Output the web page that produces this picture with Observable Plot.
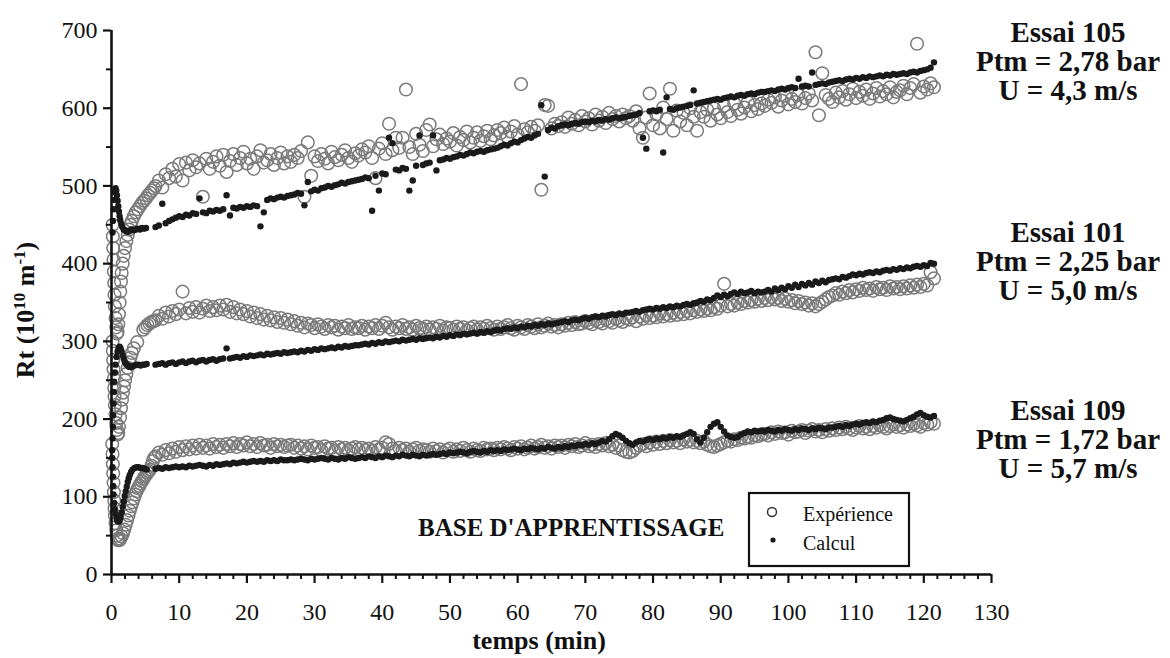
<!DOCTYPE html>
<html><head><meta charset="utf-8">
<script src="https://cdn.jsdelivr.net/npm/d3@7"></script>
<script src="https://cdn.jsdelivr.net/npm/@observablehq/plot@0.6"></script>
<style>
html,body{margin:0;padding:0;background:#fff;}
#chart{width:1170px;height:658px;}
</style></head><body><div id="chart"></div>
<script>
// ---------- DATA ----------
// x: temps (min), y: Rt (10^10 m^-1)
// Early transient samples (irregular times): [minute, Rt]
const exp105Early = [[0.15,450],[0.2,435],[0.25,420],[0.3,405],[0.35,390],[0.4,375],[0.45,360],[0.5,345],[0.6,330],[0.7,318],[0.8,310],[0.9,312],[1.0,322],[1.1,335],[1.2,350],[1.3,364],[1.4,377],[1.5,388],[1.65,400],[1.8,410],[2.0,420],[2.2,429],[2.4,437],[2.6,444],[2.8,450],[3.0,455],[3.3,461],[3.6,466],[3.9,470],[4.2,474],[4.5,478],[4.8,481],[5.1,484],[5.4,488],[5.7,491],[6.0,494],[6.3,497]];
const exp101Early = [[0.15,300],[0.2,288],[0.25,276],[0.3,264],[0.35,252],[0.4,240],[0.45,229],[0.5,218],[0.6,206],[0.7,195],[0.8,186],[0.9,180],[1.0,182],[1.1,190],[1.25,202],[1.4,214],[1.55,225],[1.7,234],[1.85,242],[2.0,250],[2.2,258],[2.4,266],[2.6,273],[2.8,279],[3.0,285],[3.3,291],[3.8,299],[4.7,315],[5.0,318],[5.3,321],[5.6,323],[5.9,325],[6.2,326]];
const exp109Early = [[0.1,168],[0.15,155],[0.2,142],[0.25,130],[0.3,118],[0.35,106],[0.4,95],[0.45,85],[0.5,76],[0.6,66],[0.7,57],[0.8,50],[0.9,46],[1.0,44],[1.15,44],[1.3,46],[1.5,49],[1.7,53],[1.9,58],[2.1,64],[2.3,70],[2.5,76],[2.7,82],[2.9,88],[3.1,93],[3.3,98],[3.5,103],[3.7,107],[3.9,111],[4.1,114],[4.3,117],[4.5,120],[4.7,123],[4.9,126],[5.1,128],[5.3,131],[5.5,133],[5.7,135],[5.9,140],[6.1,146],[6.3,150]];
const calc105Early = [[0.15,440],[0.2,455],[0.3,470],[0.4,482],[0.5,492],[0.6,497],[0.7,494],[0.8,488],[0.9,481],[1.0,474],[1.1,467],[1.2,461],[1.3,456],[1.45,451],[1.6,447],[1.8,444],[2.0,443],[2.2,442],[2.4,441],[2.6,442],[2.8,443],[3.0,444],[3.3,443],[3.6,444],[3.9,445],[4.2,444],[4.5,446],[4.8,445],[5.1,446]];
const calc101Early = [[0.1,160],[0.15,175],[0.2,190],[0.25,205],[0.3,220],[0.35,235],[0.4,248],[0.5,260],[0.6,270],[0.75,280],[0.9,287],[1.05,291],[1.2,293],[1.35,291],[1.5,287],[1.65,282],[1.8,278],[1.95,274],[2.1,272],[2.3,270],[2.5,268],[2.7,267],[2.9,267],[3.1,268],[3.4,269],[3.7,270],[4.0,270],[4.3,269],[4.6,270],[4.9,270],[5.2,271]];
const calc109Early = [[0.1,150],[0.15,138],[0.2,126],[0.25,114],[0.3,103],[0.4,92],[0.5,84],[0.6,78],[0.75,72],[0.9,69],[1.05,68],[1.2,70],[1.35,74],[1.5,80],[1.65,87],[1.8,94],[1.95,101],[2.1,107],[2.25,113],[2.4,119],[2.55,124],[2.7,128],[2.9,132],[3.1,135],[3.4,137],[3.7,138],[4.0,138],[4.3,137],[4.6,137],[4.9,136],[5.2,135]];

// Regular logger samples from 6.5 min, every 0.5 min
const sampleStart = 6.5, sampleStep = 0.5;

const exp105 = [
500,507,498,515,510,522,512,528,507,530,520,533,524,529,486,535,522,531,538,526,
540,518,532,541,527,536,544,529,535,522,538,546,530,533,541,527,536,543,529,538,
531,540,536,545,486,556,513,538,532,541,535,529,544,537,533,540,546,536,531,542,
539,547,543,551,536,510,548,555,541,580,546,562,549,562,624,550,541,567,553,545,
572,579,551,560,566,554,561,557,568,552,563,559,570,556,562,569,558,564,571,560,
565,572,568,575,563,570,577,566,631,573,569,576,571,578,495,604,603,574,580,577,
582,576,588,580,585,578,590,583,587,579,592,584,589,581,594,586,590,583,592,587,
590,584,596,574,562,588,619,578,592,574,601,586,625,571,597,583,594,578,600,589,
571,595,589,598,584,600,592,587,603,595,590,606,598,593,601,608,596,604,599,606,
603,611,607,614,602,610,616,605,612,608,617,606,613,619,610,672,591,645,617,612,
608,620,614,622,611,618,625,613,621,616,624,612,619,626,615,622,618,627,614,621,
623,629,618,626,631,683,620,628,624,632,627];

const calc105 = [
447,449,477,452,455,457,459,461,460,463,462,465,464,484,466,465,468,467,469,468,
470,488,462,472,471,473,472,474,473,475,474,448,466,482,484,483,485,486,485,487,
488,489,491,490,475,505,493,495,494,497,498,500,499,501,502,504,503,505,506,507,
508,509,511,510,468,513,494,516,515,562,555,521,520,523,522,494,507,526,565,527,
529,530,565,520,533,534,536,535,537,538,540,539,541,543,542,544,545,544,546,547,
548,549,551,553,552,555,557,556,559,561,563,562,565,567,604,512,572,575,574,577,
578,579,578,580,581,580,582,583,582,584,583,585,584,586,585,587,588,587,588,589,
590,591,592,594,562,548,596,597,596,598,543,614,599,598,600,601,602,603,604,623,
606,607,608,609,610,611,612,611,613,614,615,614,616,617,616,618,619,618,620,621,
621,622,623,622,624,625,624,626,627,626,638,628,629,628,646,630,631,632,631,633,
634,635,636,635,637,638,637,639,638,640,639,641,640,641,642,641,643,642,644,643,
644,645,644,646,647,646,648,649,650,652,659];

const exp101 = [
327,333,329,337,332,339,335,341,364,336,343,338,344,337,342,346,339,344,340,346,
341,347,338,344,336,341,335,339,332,337,330,335,328,333,327,331,325,330,324,328,
322,326,320,324,318,323,321,317,322,319,316,321,318,320,315,319,317,321,316,318,
317,320,315,319,317,321,316,320,324,318,315,319,317,321,316,318,315,320,317,316,
319,315,318,316,320,314,318,317,315,319,316,318,314,317,319,315,318,316,320,317,
315,319,316,318,321,317,315,320,318,316,321,319,317,322,318,320,323,319,321,318,
322,320,324,321,325,322,323,326,324,322,327,325,323,328,326,324,329,327,325,330,
328,331,326,332,329,334,330,333,331,336,332,335,333,337,334,338,335,339,336,340,
338,341,339,342,340,344,342,346,374,345,348,346,350,348,352,350,353,351,355,352,
356,353,357,354,356,352,355,351,353,349,352,348,350,346,349,345,348,351,354,357,
359,362,360,364,362,366,363,367,365,369,366,368,365,370,367,369,366,371,368,370,
367,371,368,372,369,373,370,374,372,389,381];

const calc101 = [
270,271,272,270,272,273,271,273,274,272,274,275,273,275,276,274,276,277,275,277,
278,291,278,279,280,279,281,280,282,281,282,283,282,284,283,284,285,284,286,285,
286,287,286,288,287,289,288,290,289,291,290,291,292,291,293,292,294,293,294,295,
295,296,297,296,298,297,299,298,300,299,300,301,300,302,301,302,303,302,304,303,
304,305,304,306,305,307,306,308,307,309,308,310,309,310,311,310,312,311,313,312,
314,315,314,316,317,316,318,317,319,318,320,319,321,320,322,321,323,322,323,324,
325,326,325,327,328,327,329,330,329,331,332,331,333,332,334,335,334,336,335,337,
337,338,339,338,340,341,342,341,343,342,344,343,345,344,346,345,347,348,347,349,
350,352,351,354,353,356,359,357,360,358,361,363,361,364,362,363,365,362,364,363,
364,366,364,368,366,369,367,371,369,373,370,374,372,375,373,377,375,378,376,379,
380,381,380,383,382,384,386,385,387,386,388,389,388,390,389,391,392,391,393,392,
394,393,395,394,396,397,396,398,397,401,400];

const exp109 = [
152,157,154,160,156,162,158,164,160,165,161,166,162,167,163,166,162,168,164,167,
163,168,165,169,164,168,166,170,165,168,164,169,166,167,163,168,165,167,164,166,
167,163,166,162,165,161,166,163,164,160,165,162,163,159,164,161,163,160,162,164,
161,163,160,162,159,164,161,163,170,168,162,159,163,160,162,158,161,163,159,161,
160,158,162,159,161,157,160,162,158,161,159,163,160,158,162,160,159,163,161,162,
160,163,161,164,162,160,164,162,165,161,163,166,162,164,167,163,165,162,166,164,
166,163,167,165,168,164,166,169,165,167,164,168,166,169,165,167,163,166,160,158,
157,159,163,166,168,165,170,167,171,168,172,169,173,170,172,169,174,171,173,170,
172,169,171,167,165,164,166,168,170,172,171,174,173,176,175,177,176,179,178,180,
181,179,183,181,184,182,183,180,185,183,184,186,182,185,187,184,186,183,187,185,
188,186,189,187,190,188,186,189,191,188,190,187,191,189,192,190,188,191,193,190,
192,189,193,191,194,192,190,195,193,196,194];

const calc109 = [
136,137,136,138,137,138,139,138,139,138,140,139,140,141,140,139,141,140,142,141,
142,143,142,144,143,144,145,144,145,146,145,146,145,147,146,147,146,148,147,147,
148,147,148,149,148,147,149,148,149,150,149,148,150,149,148,150,149,151,150,149,
150,151,150,152,151,150,152,151,153,152,151,153,152,154,153,152,154,153,152,154,
153,154,155,154,155,156,155,157,156,157,158,157,156,158,159,158,157,159,158,160,
159,160,159,161,160,161,162,161,160,162,161,163,162,161,163,162,164,163,162,164,
163,165,164,166,165,167,166,168,167,169,168,170,172,171,174,178,181,179,176,172,
169,167,170,172,171,173,174,173,175,174,176,175,177,176,178,177,179,181,183,181,
174,170,176,183,190,194,196,190,184,179,177,176,177,180,182,184,183,185,184,185,
184,186,185,184,186,185,187,186,185,187,186,188,187,186,188,187,189,188,187,189,
189,190,191,190,192,191,193,194,193,195,196,195,197,196,198,199,201,202,200,199,
198,197,199,201,203,206,208,205,203,202,204];

const xMajorTicks = [0,10,20,30,40,50,60,70,80,90,100,110,120,130];
const xMinorTicks = [2,4,6,8,12,14,16,18,22,24,26,28,32,34,36,38,42,44,46,48,52,54,56,58,62,64,66,68,72,74,76,78,82,84,86,88,92,94,96,98,102,104,106,108,112,114,116,118,122,124,126,128];
const yMajorTicks = [0,100,200,300,400,500,600,700];
const yMinorTicks = [50,150,250,350,450,550,650];

const essaiLabels = [
  ["Essai 105", "Ptm = 2,78 bar", "U = 4,3 m/s"],
  ["Essai 101", "Ptm = 2,25 bar", "U = 5,0 m/s"],
  ["Essai 109", "Ptm = 1,72 bar", "U = 5,7 m/s"]
];
const legendItems = ["Expérience", "Calcul"];

// ---------- BUILD TABLES ----------
function build(early, main, essai) {
  const out = early.map(([t, v]) => ({t, v, essai}));
  main.forEach((v, i) => out.push({t: sampleStart + i * sampleStep, v, essai}));
  return out;
}
const experience = [
  ...build(exp105Early, exp105, "105"),
  ...build(exp101Early, exp101, "101"),
  ...build(exp109Early, exp109, "109")
];
const calcul = [
  ...build(calc105Early, calc105, "105"),
  ...build(calc101Early, calc101, "101"),
  ...build(calc109Early, calc109, "109")
];

const SERIF = "'Liberation Serif','Times New Roman',Times,serif";

const chart = Plot.plot({
  width: 1170, height: 658,
  marginLeft: 111, marginRight: 179, marginTop: 30, marginBottom: 84,
  x: {domain: [0, 130]},
  y: {domain: [0, 700]},
  style: {fontFamily: SERIF, background: "white", color: "#111"},
  marks: [
    Plot.dot(experience, {x: "t", y: "v", r: 6.3, stroke: "#7a7a7a", strokeWidth: 1.5, fill: "none"}),
    Plot.dot(calcul, {x: "t", y: "v", r: 3.2, fill: "#1a1a1a", stroke: "none"}),
    Plot.axisX({ticks: xMinorTicks, tickSize: 5, tickFormat: () => "", strokeWidth: 2, label: null}),
    Plot.axisX({ticks: xMajorTicks, tickSize: 9, tickPadding: 19, fontSize: 24, strokeWidth: 2.2, label: null}),
    Plot.axisY({ticks: yMinorTicks, tickSize: 5, tickFormat: () => "", strokeWidth: 2, label: null}),
    Plot.axisY({ticks: yMajorTicks, tickSize: 8, tickPadding: 6, fontSize: 24, strokeWidth: 2.2, label: null}),
    Plot.ruleY([0], {x1: 0, x2: 130, strokeWidth: 2.6, stroke: "#111"}),
    Plot.ruleX([0], {y1: 0, y2: 700, strokeWidth: 2.6, stroke: "#111"})
  ]
});
document.getElementById("chart").appendChild(chart);

// ---------- ANNOTATIONS ----------
const svg = d3.select(chart);
const g = svg.append("g").attr("font-family", SERIF).attr("fill", "#111").attr("text-anchor", "start");

// y axis title with superscripts
const yt = g.append("text")
  .attr("transform", "translate(34,310) rotate(-90)")
  .attr("text-anchor", "middle")
  .attr("font-size", 26).attr("font-weight", "bold");
yt.append("tspan").text("Rt (10");
yt.append("tspan").attr("baseline-shift", "super").attr("font-size", 17).text("10");
yt.append("tspan").text(" m");
yt.append("tspan").attr("baseline-shift", "super").attr("font-size", 17).text("-1");
yt.append("tspan").text(")");

// x axis title
g.append("text").attr("x", 539).attr("y", 649).attr("text-anchor", "middle")
  .attr("font-size", 26).attr("font-weight", "bold").text("temps (min)");

// right-side test labels
const blockTops = [42, 242, 420];
essaiLabels.forEach((lines, k) => {
  lines.forEach((s, j) => {
    g.append("text").attr("x", 1068).attr("y", blockTops[k] + j * 29)
      .attr("text-anchor", "middle").attr("font-size", 29).attr("font-weight", "bold").text(s);
  });
});

// base label
g.append("text").attr("x", 418).attr("y", 536).attr("text-anchor", "start")
  .attr("font-size", 25).attr("font-weight", "bold").text("BASE D'APPRENTISSAGE");

// legend box
g.append("rect").attr("x", 749).attr("y", 493).attr("width", 160).attr("height", 73)
  .attr("fill", "white").attr("stroke", "#111").attr("stroke-width", 2.2);
g.append("circle").attr("cx", 772).attr("cy", 512).attr("r", 4.5)
  .attr("fill", "white").attr("stroke", "#333").attr("stroke-width", 1.5);
g.append("circle").attr("cx", 773).attr("cy", 540).attr("r", 2.6).attr("fill", "#1a1a1a");
g.append("text").attr("x", 803).attr("y", 521).attr("text-anchor", "start").attr("font-size", 20).text(legendItems[0]);
g.append("text").attr("x", 803).attr("y", 550).attr("text-anchor", "start").attr("font-size", 20).text(legendItems[1]);
</script>
</body></html>
